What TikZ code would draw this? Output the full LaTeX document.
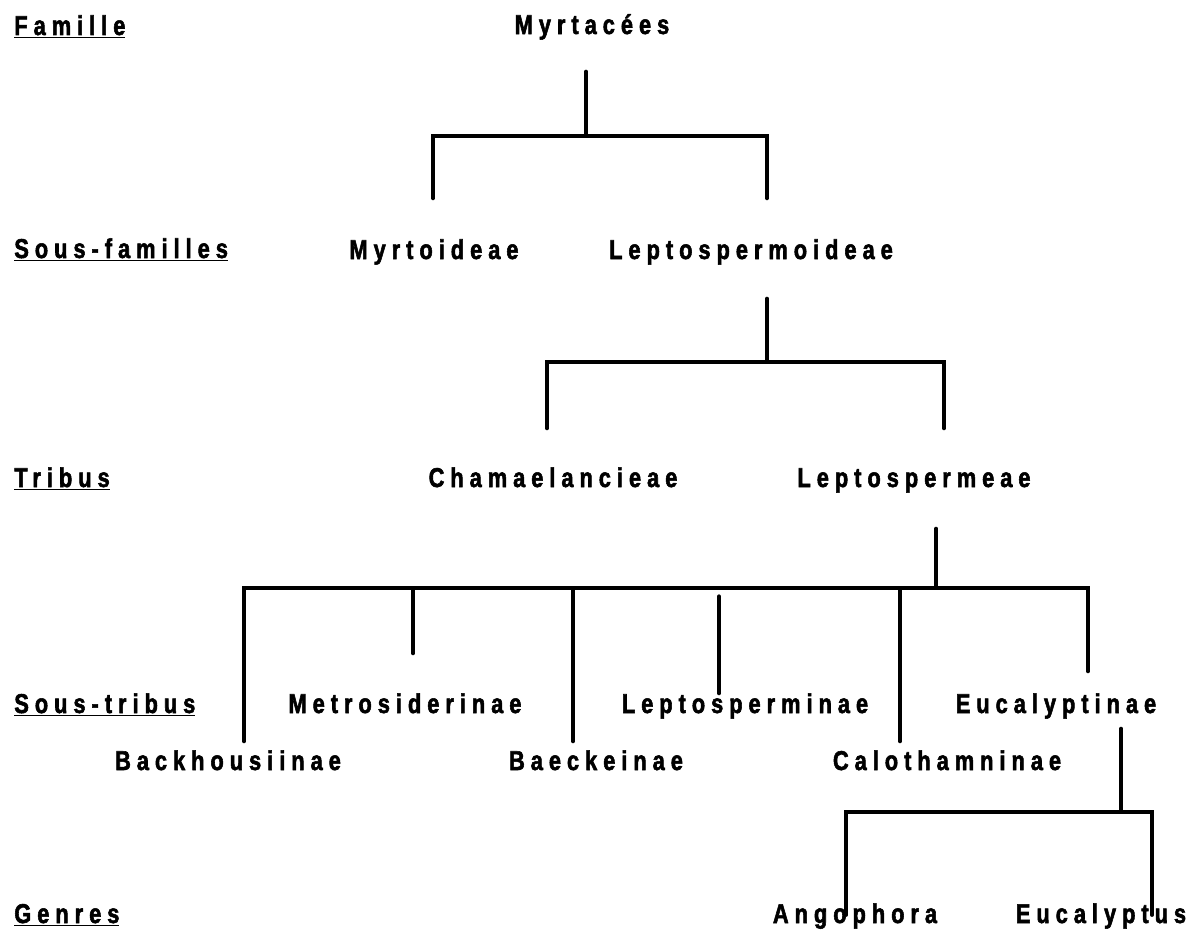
\documentclass[tikz,border=0pt]{standalone}
\usepackage{fontspec}
\newfontfamily\scanfont{Liberation Sans Bold}[FakeStretch=0.8,LetterSpace=22,FakeBold=2]
\usetikzlibrary{calc}

\tikzset{
  taxon/.style={font=\scanfont\fontsize{15.5}{18}\selectfont, inner sep=0pt,
    text height=11pt, text depth=3pt, anchor=base},
  rang/.style={taxon, anchor=base west},
  branch/.style={line width=2.2pt, line cap=round},
}

\begin{document}
\begin{tikzpicture}[x=0.2mm, y=-0.2mm]
  \useasboundingbox (0,0) rectangle (1203,948);
  % ranks, left column
  \node[rang] (r-fam)  at (14,35)  {\underline{Famille}};
  \node[rang] (r-sfam) at (14,258) {\underline{Sous-familles}};
  \node[rang] (r-trib) at (14,487) {\underline{Tribus}};
  \node[rang] (r-stri) at (14,713) {\underline{Sous-tribus}};
  \node[rang] (r-gen)  at (14,923) {\underline{Genres}};
  % taxa
  \node[taxon] (myrt)   at (592,34)  {Myrtacées};
  \node[taxon] (myrto)  at (434,259) {Myrtoideae};
  \node[taxon] (lepto)  at (751,259) {Leptospermoideae};
  \node[taxon] (cham)   at (553,487) {Chamaelancieae};
  \node[taxon] (leptm)  at (914,487) {Leptospermeae};
  \node[taxon] (metro)  at (405,713) {Metrosiderinae};
  \node[taxon] (leptom) at (745,713) {Leptosperminae};
  \node[taxon] (euca)   at (1056,713) {Eucalyptinae};
  \node[taxon] (backh)  at (228,770) {Backhousiinae};
  \node[taxon] (baeck)  at (596,770) {Baeckeinae};
  \node[taxon] (calo)   at (947,770) {Calothamninae};
  \node[taxon] (ango)   at (855,923) {Angophora};
  \node[taxon] (eucs)   at (1101,923) {Eucalyptus};
  % junctions of the brackets
  \coordinate (j1) at (586,136);
  \coordinate (j2) at (767,362);
  \coordinate (j3) at (936,588);
  \coordinate (j4) at (1121,812);
  % famille -> sous-familles
  \draw[branch] ($(myrt.south)+(-6,32)$) -- (j1);
  \draw[branch] (j1) -| ($(myrto.north)+(-1,-41)$);
  \draw[branch] (j1) -| ($(lepto.north)+(16,-41)$);
  % sous-famille -> tribus
  \draw[branch] ($(lepto.south)+(16,34)$) -- (j2);
  \draw[branch] (j2) -| ($(cham.north)+(-6,-39)$);
  \draw[branch] (j2) -| ($(leptm.north)+(30,-39)$);
  % tribu -> sous-tribus
  \draw[branch] ($(leptm.south)+(22,36)$) -- (j3);
  \draw[branch] (j3) -| ($(backh.north)+(16,-9)$);
  \draw[branch] (j3) -| ($(metro.north)+(8,-40)$);
  \draw[branch] (j3) -| ($(baeck.north)+(-23,-9)$);
  \draw[branch] (j3) -| ($(calo.north)+(-47,-9)$);
  \draw[branch] (j3) -| ($(euca.north)+(32,-22)$);
  \draw[branch] ($(leptom.north)+(-26,-97)$) -- ($(leptom.north)+(-26,0)$);
  % sous-tribu -> genres
  \draw[branch] ($(euca.south)+(65,10)$) -- (j4);
  \draw[branch] (j4) -| ($(ango.base)+(-9,-8)$);
  \draw[branch] (j4) -| ($(eucs.base)+(51,-8)$);
\end{tikzpicture}
\end{document}
